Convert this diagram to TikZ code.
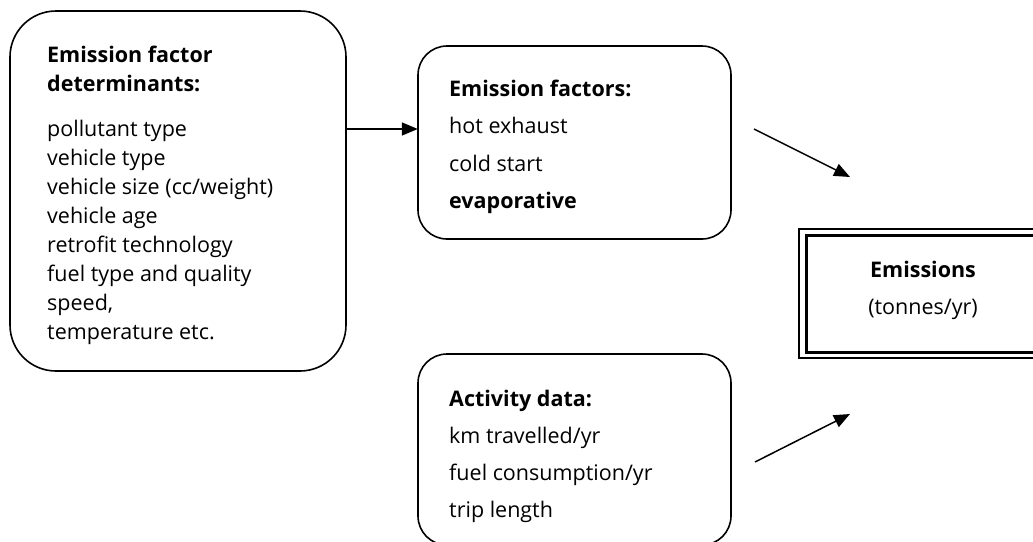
\documentclass[tikz,border=0pt]{standalone}
\usepackage{fontspec}
\setmainfont{Open Sans}
\usetikzlibrary{arrows.meta}
\newcommand{\linesA}[1]{\vtop{\baselineskip=29pt\lineskiplimit=-20pt\halign{##\hfil\cr#1\crcr}}}
\newcommand{\linesB}[1]{\vtop{\baselineskip=37.3pt\lineskiplimit=-20pt\halign{##\hfil\cr#1\crcr}}}
\begin{document}
\begin{tikzpicture}[x=1pt,y=-1pt,
  rbox/.style={draw=black,line width=1.6pt,rounded corners=#1},
  txt/.style={anchor=base west,inner sep=0pt,font=\fontsize{21.5}{29}\selectfont},
  ctxt/.style={anchor=base,inner sep=0pt,font=\fontsize{21.5}{29}\selectfont},
  conn/.style={line width=1.5pt,-{Triangle[length=16pt,width=13pt]}}]
\useasboundingbox (0,0) rectangle (1033,541);
\clip (0,0) rectangle (1033,541);
% boxes
\draw[rbox=46pt] (10,11) rectangle (346,371);
\node[inner sep=0pt,minimum width=336pt,minimum height=360pt] (efd) at (178,191) {};
\draw[rbox=29pt] (418,46) rectangle (731,239);
\node[inner sep=0pt,minimum width=313pt,minimum height=193pt] (ef) at (574.5,142.5) {};
\draw[rbox=29pt] (418,354) rectangle (731,545);
\node[inner sep=0pt,minimum width=313pt,minimum height=191pt] (act) at (574.5,449.5) {};
\draw[line width=1.8pt] (799,229) rectangle (1045,358);
\draw[line width=3pt] (806,235.5) rectangle (1045,352);
\node[inner sep=0pt,minimum width=246pt,minimum height=129pt] (em) at (922,293.5) {};
% texts
\node[txt] (efdhead) at (47,62) {\linesA{\bfseries Emission factor\cr\bfseries determinants:}};
\node[txt] (efdlist) at (47,136) {\linesA{pollutant type\cr vehicle type\cr vehicle size (cc/weight)\cr vehicle age\cr retrofit technology\cr fuel type and quality\cr speed,\cr temperature etc.}};
\node[txt] (eftext) at (449,96.5) {\linesB{\bfseries Emission factors:\cr hot exhaust\cr cold start\cr\bfseries evaporative}};
\node[txt] (acttext) at (449,406) {\linesB{\bfseries Activity data:\cr km travelled/yr\cr fuel consumption/yr\cr trip length}};
\node[ctxt] (emhead) at (923,277) {\bfseries Emissions};
\node[ctxt] (emunit) at (923,314.5) {(tonnes/yr)};
% connectors
\coordinate (a2s) at (754,129);
\coordinate (a2e) at (850,177);
\coordinate (a3s) at (755,462);
\coordinate (a3e) at (850,414);
\draw[conn] (efd.east |- 0,129) -- (ef.west |- 0,129);
\draw[conn] (a2s) -- (a2e);
\draw[conn] (a3s) -- (a3e);
\end{tikzpicture}
\end{document}
